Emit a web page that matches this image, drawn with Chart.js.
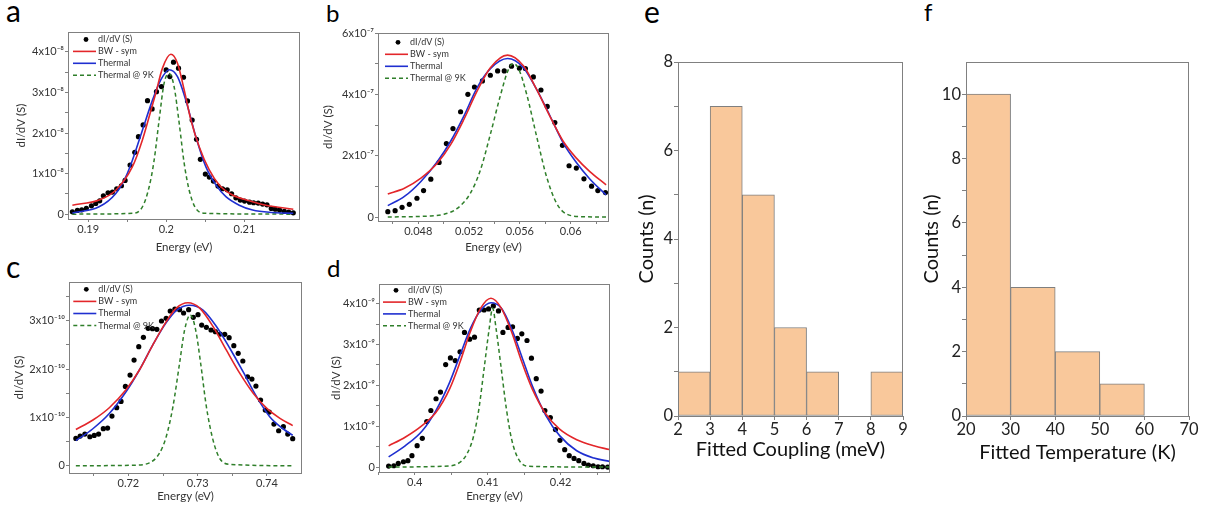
<!DOCTYPE html>
<html><head><meta charset="utf-8">
<script src="https://cdn.jsdelivr.net/npm/chart.js@4.4.1/dist/chart.umd.min.js"></script>
<style>
body{margin:0;background:#fff;width:1216px;height:510px;overflow:hidden;position:relative;font-family:Lato,"Open Sans",sans-serif}
canvas{position:absolute}
.lbl{position:absolute;line-height:1;color:#000;font-family:Lato,"Open Sans",sans-serif}
</style></head><body>
<div class="lbl" style="left:6px;top:-5px;font-size:30px">a</div>
<div class="lbl" style="left:326px;top:1px;font-size:24px">b</div>
<div class="lbl" style="left:6px;top:251px;font-size:30px">c</div>
<div class="lbl" style="left:327px;top:256px;font-size:24px">d</div>
<div class="lbl" style="left:644px;top:-4px;font-size:30px">e</div>
<div class="lbl" style="left:924px;top:0px;font-size:24px">f</div>
<canvas id="ca" width="312" height="232" style="left:0;top:24px"></canvas>
<canvas id="cb" width="310" height="232" style="left:312px;top:24px"></canvas>
<canvas id="cc" width="312" height="254" style="left:0;top:256px"></canvas>
<canvas id="cd" width="310" height="254" style="left:312px;top:256px"></canvas>
<canvas id="ce" width="300" height="486" style="left:622px;top:24px"></canvas>
<canvas id="cf" width="311" height="486" style="left:905px;top:24px"></canvas>
<script>
// ---------------- DATA ----------------
const legendLabels = ['dI/dV (S)', 'BW - sym', 'Thermal', 'Thermal @ 9K'];

// Panel a (y in units of 1e-8 S)
const aDotsX = [0.18797,0.18861,0.18917,0.18976,0.19041,0.19096,0.19147,0.19194,0.19254,0.19310,0.19365,0.19425,0.19472,0.19536,0.19596,0.19643,0.19703,0.19759,0.19818,0.19874,0.19938,0.19998,0.20045,0.20092,0.20156,0.20220,0.20271,0.20331,0.20387,0.20436,0.20500,0.20551,0.20603,0.20662,0.20720,0.20780,0.20836,0.20891,0.20947,0.21002,0.21066,0.21118,0.21177,0.21233,0.21289,0.21344,0.21396,0.21451,0.21511,0.21567,0.21626];
const aDotsY = [0.058,0.091,0.107,0.140,0.206,0.263,0.329,0.453,0.527,0.543,0.626,0.700,0.831,1.210,1.523,1.909,2.198,2.798,2.593,3.020,3.144,3.556,3.391,3.745,3.597,3.374,2.790,2.321,1.844,1.350,0.988,0.914,0.815,0.691,0.626,0.601,0.502,0.403,0.346,0.321,0.296,0.280,0.272,0.247,0.230,0.140,0.123,0.099,0.066,0.049,0.033];
const aBwX = [0.18797,0.19139,0.19353,0.19566,0.19694,0.19780,0.19865,0.19951,0.20058,0.20143,0.20229,0.20315,0.20421,0.20550,0.20678,0.20848,0.21062,0.21276,0.21626];
const aBwY = [0.22,0.35,0.59,1.17,1.83,2.40,2.98,3.60,3.94,3.72,3.06,2.32,1.66,1.09,0.72,0.47,0.33,0.22,0.12];
const aThX = [0.18797,0.19139,0.19353,0.19481,0.19566,0.19694,0.19823,0.19929,0.20036,0.20143,0.20250,0.20378,0.20506,0.20635,0.20763,0.20934,0.21105,0.21361,0.21626];
const aThY = [0.03,0.18,0.51,0.92,1.33,2.07,2.81,3.31,3.56,3.39,2.81,1.91,1.17,0.72,0.43,0.22,0.10,0.04,0.02];
const a9kX = [0.18797,0.19566,0.19694,0.19780,0.19844,0.19908,0.19972,0.20036,0.20100,0.20165,0.20229,0.20293,0.20378,0.20506,0.21626];
const a9kY = [0,0.02,0.18,0.67,1.33,2.32,3.23,3.47,3.14,2.24,1.25,0.59,0.14,0.02,0];
const aXMajor = [0.19,0.2,0.21], aXMinor = [0.195,0.205];
const aYMajor = [0,1,2,3,4], aYMinor = [0.5,1.5,2.5,3.5];
const aExp = -8;

// Panel b (y in units of 1e-7 S)
const bDotsX = [0.045604,0.046177,0.046724,0.047297,0.047896,0.048417,0.048990,0.049641,0.050214,0.050734,0.051333,0.051906,0.052427,0.053052,0.053677,0.054250,0.054771,0.055344,0.055969,0.056438,0.057063,0.057661,0.058156,0.058755,0.059354,0.059875,0.060448,0.061047,0.061646,0.062141,0.062740];
const bDotsY = [0.175,0.208,0.317,0.415,0.612,0.863,1.235,1.781,2.393,2.885,3.432,4.000,4.240,4.437,4.623,4.765,4.765,4.918,4.852,4.842,4.568,4.142,3.607,3.082,2.339,1.672,1.596,1.246,1.005,0.863,0.798];
const bBwX = [0.04560,0.04691,0.04821,0.04951,0.05055,0.05159,0.05264,0.05368,0.05503,0.05628,0.05732,0.05836,0.05941,0.06045,0.06149,0.06279];
const bBwY = [0.754,0.94,1.27,1.76,2.36,3.18,4.11,4.87,5.28,4.93,4.16,3.29,2.47,1.92,1.49,1.05];
const bThX = [0.04560,0.04691,0.04821,0.04951,0.05055,0.05159,0.05264,0.05368,0.05503,0.05628,0.05732,0.05836,0.05941,0.06045,0.06149,0.06279];
const bThY = [0.37,0.67,1.16,1.81,2.47,3.29,4.22,4.84,5.17,4.87,4.16,3.31,2.42,1.78,1.25,0.72];
const b9kX = [0.04560,0.04873,0.05003,0.05107,0.05211,0.05290,0.05368,0.05446,0.05511,0.05550,0.05589,0.05654,0.05732,0.05810,0.05889,0.05967,0.06097,0.06279];
const b9kY = [0,0.03,0.09,0.28,0.78,1.54,2.70,3.95,4.82,5.00,4.84,4.00,2.63,1.32,0.45,0.10,0.01,0];
const bXMajor = [0.048,0.052,0.056,0.06], bXMinor = [0.046,0.05,0.054,0.058,0.062];
const bYMajor = [0,2,4,6], bYMinor = [1,3,5];
const bExp = -7;

// Panel c (y in units of 1e-10 S)
const cDotsX = [0.71242,0.71304,0.71372,0.71444,0.71507,0.71570,0.71638,0.71700,0.71763,0.71831,0.71894,0.71957,0.72024,0.72082,0.72150,0.72217,0.72285,0.72348,0.72411,0.72478,0.72546,0.72604,0.72671,0.72739,0.72797,0.72870,0.72937,0.73005,0.73058,0.73126,0.73193,0.73256,0.73324,0.73391,0.73454,0.73522,0.73585,0.73652,0.73720,0.73783,0.73841,0.73908,0.73976,0.74034,0.74101,0.74169,0.74237,0.74300,0.74372];
const cDotsY = [0.566,0.614,0.655,0.600,0.628,0.655,0.766,0.779,1.028,1.200,1.331,1.641,1.876,2.186,2.462,2.655,2.841,2.834,2.821,2.993,3.048,3.200,3.241,3.228,3.159,3.228,3.069,3.124,2.910,2.862,2.807,2.772,2.724,2.717,2.648,2.483,2.324,2.166,1.841,1.793,1.648,1.359,1.152,1.110,0.862,0.724,0.807,0.655,0.559];
const cBwX = [0.71242,0.71483,0.71725,0.71966,0.72159,0.72353,0.72546,0.72691,0.72860,0.73029,0.73222,0.73415,0.73609,0.73802,0.73995,0.74188,0.74372];
const cBwY = [0.75,0.94,1.20,1.57,1.98,2.50,2.98,3.26,3.37,3.26,2.88,2.39,1.91,1.50,1.19,0.98,0.83];
const cThX = [0.71242,0.71483,0.71725,0.71966,0.72159,0.72353,0.72546,0.72691,0.72884,0.73077,0.73271,0.73464,0.73657,0.73850,0.74043,0.74237,0.74372];
const cThY = [0.52,0.76,1.08,1.53,1.98,2.50,2.96,3.21,3.32,3.22,2.88,2.43,1.94,1.43,1.01,0.76,0.63];
const c9kX = [0.71242,0.72063,0.72304,0.72449,0.72546,0.72643,0.72739,0.72812,0.72894,0.72971,0.73043,0.73126,0.73222,0.73319,0.73464,0.74372];
const c9kY = [0,0.01,0.06,0.26,0.60,1.22,2.12,2.81,3.12,2.81,2.12,1.22,0.53,0.15,0.03,0];
const cXMajor = [0.72,0.73,0.74], cXMinor = [0.715,0.725,0.735];
const cYMajor = [0,1,2,3], cYMinor = [0.5,1.5,2.5,3.5];
const cExp = -10;

// Panel d (y in units of 1e-9 S)
const dDotsX = [0.39642,0.39713,0.39774,0.39845,0.39906,0.39962,0.40033,0.40104,0.40165,0.40221,0.40292,0.40353,0.40424,0.40489,0.40555,0.40621,0.40682,0.40753,0.40819,0.40885,0.40951,0.41012,0.41078,0.41148,0.41209,0.41280,0.41341,0.41407,0.41468,0.41539,0.41600,0.41666,0.41732,0.41784,0.41859,0.41929,0.41991,0.42056,0.42118,0.42184,0.42249,0.42320,0.42381,0.42447,0.42513,0.42574,0.42645];
const dDotsY = [0.025,0.033,0.090,0.131,0.156,0.279,0.525,0.705,1.115,1.385,1.672,1.836,2.508,2.672,2.607,2.820,3.295,3.131,3.180,3.844,3.844,3.869,3.943,3.820,3.295,3.418,3.434,3.148,3.262,3.098,2.664,2.164,1.861,1.385,1.213,0.918,0.656,0.426,0.279,0.213,0.156,0.090,0.049,0.033,0.008,0.008,0.0];
const dBwX = [0.39642,0.39868,0.40104,0.40292,0.40480,0.40621,0.40762,0.40904,0.41045,0.41186,0.41327,0.41468,0.41609,0.41798,0.41986,0.42221,0.42456,0.42668];
const dBwY = [0.52,0.73,1.02,1.34,1.92,2.57,3.31,3.89,4.13,3.89,3.31,2.57,1.92,1.30,0.93,0.67,0.52,0.43];
const dThX = [0.39642,0.39868,0.40104,0.40292,0.40480,0.40621,0.40762,0.40904,0.41045,0.41186,0.41327,0.41468,0.41609,0.41798,0.41986,0.42221,0.42456,0.42668];
const dThY = [0.25,0.52,0.89,1.39,2.08,2.74,3.39,3.84,4.02,3.89,3.39,2.70,2.00,1.26,0.77,0.40,0.22,0.14];
const d9kX = [0.39642,0.40386,0.40574,0.40715,0.40809,0.40880,0.40951,0.41021,0.41068,0.41115,0.41186,0.41256,0.41327,0.41421,0.41562,0.42668];
const d9kY = [0,0.02,0.07,0.32,0.77,1.43,2.41,3.39,3.89,3.39,2.41,1.43,0.69,0.20,0.02,0];
const dXMajor = [0.4,0.41,0.42], dXMinor = [0.395,0.405,0.415,0.425];
const dYMajor = [0,1,2,3,4], dYMinor = [0.5,1.5,2.5,3.5];
const dExp = -9;

// Panel e histogram
const eBinEdges = [2,3,4,5,6,7,8,9];
const eCounts = [1,7,5,2,1,0,1];
const eXTicks = [2,3,4,5,6,7,8,9];
const eYMajor = [0,2,4,6,8], eYMinor = [1,3,5,7];

// Panel f histogram
const fBinEdges = [20,30,40,50,60,70];
const fCounts = [10,4,2,1,0];
const fXTicks = [20,30,40,50,60,70];
const fYMajor = [0,2,4,6,8,10], fYMinor = [1,3,5,7,9];

// ---------------- RENDERING ----------------
Chart.defaults.font.family = 'Lato, "Open Sans", sans-serif';
Chart.defaults.color = '#333';
const GREY = '#808080';
const RED = '#E3262A', BLUE = '#1F2FD0', GREEN = '#2F7F2A';
const SUP = {'-':'\u207B','0':'\u2070','1':'\u00B9','2':'\u00B2','3':'\u00B3','4':'\u2074','5':'\u2075','6':'\u2076','7':'\u2077','8':'\u2078','9':'\u2079'};
const sup = n => String(n).split('').map(c => SUP[c]).join('');
const isIn = (v, arr) => arr.some(a => Math.abs(a - v) < 1e-9);
const mkTicks = (major, minor) => [...major, ...minor].sort((p, q) => p - q).map(v => ({value: v}));
const zip = (xs, ys) => xs.map((x, i) => ({x, y: ys[i]}));

const framePlugin = {
  id: 'frame',
  afterDraw(chart) {
    const {ctx, chartArea: a} = chart;
    ctx.save();
    ctx.strokeStyle = GREY; ctx.lineWidth = 1;
    ctx.strokeRect(Math.round(a.left) + 0.5, Math.round(a.top) + 0.5,
                   Math.round(a.right - a.left) - 1, Math.round(a.bottom - a.top));
    ctx.restore();
  }
};

function legendPlugin(L) {
  return {
    id: 'miniLegend',
    afterDatasetsDraw(chart) {
      const {ctx, chartArea: a} = chart;
      ctx.save();
      ctx.font = '9px Lato, "Open Sans", sans-serif';
      ctx.textBaseline = 'middle';
      chart.data.datasets.forEach((ds, i) => {
        const y = a.top + L.dy + i * L.gap;
        const x0 = a.left + L.dx;
        if (ds.showLine === false) {
          ctx.beginPath(); ctx.arc(x0 + 13, y, 2.4, 0, 2 * Math.PI);
          ctx.fillStyle = '#000'; ctx.fill();
        } else {
          ctx.beginPath(); ctx.setLineDash(ds.borderDash || []);
          ctx.strokeStyle = ds.borderColor; ctx.lineWidth = ds.borderWidth;
          ctx.moveTo(x0, y); ctx.lineTo(x0 + 23, y); ctx.stroke(); ctx.setLineDash([]);
        }
        ctx.fillStyle = '#333';
        ctx.fillText(ds.label, x0 + 25, y);
      });
      ctx.restore();
    }
  };
}

function linePanel(id, P) {
  const datasets = [
    {label: legendLabels[0], data: zip(P.dotsX, P.dotsY), showLine: false, pointRadius: 2.6,
     pointBackgroundColor: '#000', pointBorderWidth: 0, order: 4},
    {label: legendLabels[1], data: zip(P.bwX, P.bwY), borderColor: RED, borderWidth: 1.6, pointRadius: 0,
     cubicInterpolationMode: 'monotone', order: 1},
    {label: legendLabels[2], data: zip(P.thX, P.thY), borderColor: BLUE, borderWidth: 1.6, pointRadius: 0,
     cubicInterpolationMode: 'monotone', order: 2},
    {label: legendLabels[3], data: zip(P.k9X, P.k9Y), borderColor: GREEN, borderWidth: 1.5, borderDash: [4, 3],
     pointRadius: 0, cubicInterpolationMode: 'monotone', order: 3}
  ];
  new Chart(document.getElementById(id), {
    type: 'line',
    data: {datasets},
    options: {
      responsive: false, animation: false, devicePixelRatio: 1,
      layout: {padding: {top: P.padTop, right: P.padRight, left: 0, bottom: 0}},
      plugins: {legend: {display: false}, tooltip: {enabled: false}},
      scales: {
        x: {
          type: 'linear', min: P.xMin, max: P.xMax,
          afterBuildTicks: s => { s.ticks = mkTicks(P.xMajor, P.xMinor); },
          afterFit: s => { s.height = P.xH; },
          ticks: {autoSkip: false, maxRotation: 0, padding: 1, font: {size: 11}, color: '#333',
                  callback: v => isIn(v, P.xMajor) ? String(v) : ''},
          grid: {drawOnChartArea: false, tickLength: 3, color: GREY},
          border: {display: false},
          title: {display: true, text: 'Energy (eV)', font: {size: 11.5}, color: '#333', padding: P.xTitlePad}
        },
        y: {
          type: 'linear', min: P.yMin, max: P.yMax,
          afterBuildTicks: s => { s.ticks = mkTicks(P.yMajor, P.yMinor); },
          afterFit: s => { s.width = P.yW; },
          ticks: {autoSkip: false, padding: 1, font: {size: 11}, color: '#333',
                  callback: v => isIn(v, P.yMajor) ? (v === 0 ? '0' : v + 'x10' + sup(P.exp)) : ''},
          grid: {drawOnChartArea: false, tickLength: 3, color: GREY},
          border: {display: false},
          title: {display: true, text: 'dI/dV (S)', font: {size: 11.5}, color: '#333', padding: P.yTitlePad}
        }
      }
    },
    plugins: [framePlugin, legendPlugin(P.legend)]
  });
}

function histPanel(id, P) {
  const data = P.counts.map((c, i) => ({x: (P.edges[i] + P.edges[i + 1]) / 2, y: c}));
  new Chart(document.getElementById(id), {
    type: 'bar',
    data: {datasets: [{data, backgroundColor: '#F9C89B', borderColor: '#7F7F7F', borderWidth: 1,
                       borderSkipped: false, barPercentage: 1, categoryPercentage: 1}]},
    options: {
      responsive: false, animation: false, devicePixelRatio: 1,
      layout: {padding: {top: P.padTop, right: P.padRight, left: 0, bottom: 0}},
      plugins: {legend: {display: false}, tooltip: {enabled: false}},
      scales: {
        x: {
          type: 'linear', min: P.edges[0], max: P.edges[P.edges.length - 1], offset: false,
          afterBuildTicks: s => { s.ticks = P.xTicks.map(v => ({value: v})); },
          afterFit: s => { s.height = P.xH; },
          ticks: {autoSkip: false, maxRotation: 0, padding: 0, font: {size: 16.5}, color: '#222'},
          grid: {drawOnChartArea: false, tickLength: 4, color: GREY, offset: false},
          border: {display: false},
          title: {display: true, text: P.xTitle, font: {size: 20}, color: '#111', padding: P.xTitlePad}
        },
        y: {
          type: 'linear', min: P.yMin, max: P.yMax,
          afterBuildTicks: s => { s.ticks = mkTicks(P.yMajor, P.yMinor); },
          afterFit: s => { s.width = P.yW; },
          ticks: {autoSkip: false, padding: 1, font: {size: 16.5}, color: '#222',
                  callback: v => isIn(v, P.yMajor) ? String(v) : ''},
          grid: {drawOnChartArea: false, tickLength: 4, color: GREY},
          border: {display: false},
          title: {display: true, text: 'Counts (n)', font: {size: 20}, color: '#111', padding: P.yTitlePad}
        }
      }
    },
    plugins: [framePlugin]
  });
}

linePanel('ca', {dotsX: aDotsX, dotsY: aDotsY, bwX: aBwX, bwY: aBwY, thX: aThX, thY: aThY, k9X: a9kX, k9Y: a9kY,
  xMajor: aXMajor, xMinor: aXMinor, yMajor: aYMajor, yMinor: aYMinor, exp: aExp,
  xMin: 0.18741, xMax: 0.21712, yMin: -0.12, yMax: 4.49,
  padTop: 8, padRight: 12, yW: 68, xH: 37, yTitlePad: 14, xTitlePad: 2,
  legend: {dx: 5, dy: 7.5, gap: 11.9}});
linePanel('cb', {dotsX: bDotsX, dotsY: bDotsY, bwX: bBwX, bwY: bBwY, thX: bThX, thY: bThY, k9X: b9kX, k9Y: b9kY,
  xMajor: bXMajor, xMinor: bXMinor, yMajor: bYMajor, yMinor: bYMinor, exp: bExp,
  xMin: 0.04483, xMax: 0.06302, yMin: -0.13, yMax: 6.0,
  padTop: 9, padRight: 13, yW: 66, xH: 35, yTitlePad: 9.5, xTitlePad: 2,
  legend: {dx: 7, dy: 9.3, gap: 12}});
linePanel('cc', {dotsX: cDotsX, dotsY: cDotsY, bwX: cBwX, bwY: cBwY, thX: cThX, thY: cThY, k9X: c9kX, k9Y: c9kY,
  xMajor: cXMajor, xMinor: cXMinor, yMajor: cYMajor, yMinor: cYMinor, exp: cExp,
  xMin: 0.71143, xMax: 0.74506, yMin: -0.15, yMax: 3.80,
  padTop: 26, padRight: 10, yW: 69, xH: 37, yTitlePad: 12.4, xTitlePad: 7,
  legend: {dx: 4.3, dy: 7.3, gap: 12.1}});
linePanel('cd', {dotsX: dDotsX, dotsY: dDotsY, bwX: dBwX, bwY: dBwY, thX: dThX, thY: dThY, k9X: d9kX, k9Y: d9kY,
  xMajor: dXMajor, xMinor: dXMinor, yMajor: dYMajor, yMinor: dYMinor, exp: dExp,
  xMin: 0.39510, xMax: 0.42677, yMin: -0.12, yMax: 4.48,
  padTop: 28, padRight: 12, yW: 67, xH: 38, yTitlePad: 17.4, xTitlePad: 7,
  legend: {dx: 4, dy: 6.3, gap: 11.8}});
histPanel('ce', {edges: eBinEdges, counts: eCounts, xTicks: eXTicks, yMajor: eYMajor, yMinor: eYMinor,
  yMin: 0, yMax: 8, xTitle: 'Fitted Coupling (meV)',
  padTop: 38, padRight: 19, yW: 56, xH: 94, yTitlePad: 13, xTitlePad: 48});
histPanel('cf', {edges: fBinEdges, counts: fCounts, xTicks: fXTicks, yMajor: fYMajor, yMinor: fYMinor,
  yMin: 0, yMax: 11, xTitle: 'Fitted Temperature (K)',
  padTop: 38, padRight: 27, yW: 61, xH: 94, yTitlePad: 15, xTitlePad: 45});
</script>
</body></html>
